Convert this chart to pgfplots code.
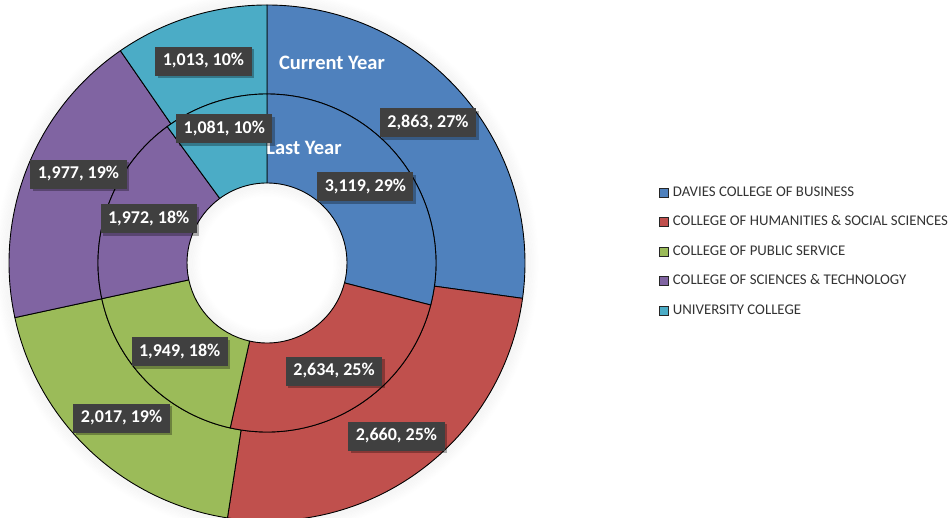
\documentclass[border=0pt]{standalone}
\usepackage{fontspec}
\setmainfont{Carlito}
\usepackage{pgfplots}
\pgfplotsset{compat=1.18}
\usepackage{pgfplotstable}
\usetikzlibrary{shadows}

\definecolor{cBlue}{HTML}{4F81BD}
\definecolor{cRed}{HTML}{C0504D}
\definecolor{cGreen}{HTML}{9BBB59}
\definecolor{cPurple}{HTML}{8064A2}
\definecolor{cAqua}{HTML}{4BACC6}
\definecolor{lblgray}{HTML}{404040}

% value, shown percentage, colour, label nudge (dx, dy)
\pgfplotstableread{
value pct color dx dy
2863 27 cBlue 0 0
2660 25 cRed 2 -2
2017 19 cGreen 1 0
1977 19 cPurple 10 10
1013 10 cAqua 0 -2
}\currentyear
\pgfplotstableread{
value pct color dx dy
3119 29 cBlue 0 0
2634 25 cRed 2 -2
1949 18 cGreen 1 -1
1972 18 cPurple -2 0
1081 10 cAqua -4 16
}\lastyear

\def\cx{267}\def\cy{255}
\pgfkeys{/pgf/number format/.cd,fixed,1000 sep={,},assume math mode=true}

\tikzset{lbl/.style={fill=lblgray, text=white, font=\bfseries\fontsize{18}{20}\selectfont,
  inner xsep=7.5pt, inner ysep=6pt, text height=13pt, text depth=4pt,
  drop shadow={shadow xshift=2.5pt, shadow yshift=-2.5pt, opacity=0.3, fill=black}}}

% #1 table, #2 inner radius, #3 outer radius, #4 w = wedges / l = labels
\newcommand\donutring[4]{%
  \pgfplotstablegetrowsof{#1}%
  \pgfmathtruncatemacro\lastrow{\pgfplotsretval-1}%
  \def\total{0}%
  \pgfplotsforeachungrouped \ii in {0,...,\lastrow}{%
    \pgfplotstablegetelem{\ii}{value}\of{#1}%
    \pgfmathsetmacro\total{\total+\pgfplotsretval/100}%
  }%
  \def\angA{90}%
  \pgfplotsforeachungrouped \ii in {0,...,\lastrow}{%
    \pgfplotstablegetelem{\ii}{value}\of{#1}\let\val\pgfplotsretval
    \pgfplotstablegetelem{\ii}{pct}\of{#1}\let\pct\pgfplotsretval
    \pgfplotstablegetelem{\ii}{color}\of{#1}\let\col\pgfplotsretval
    \pgfplotstablegetelem{\ii}{dx}\of{#1}\let\ddx\pgfplotsretval
    \pgfplotstablegetelem{\ii}{dy}\of{#1}\let\ddy\pgfplotsretval
    \pgfmathsetmacro\angB{\angA-360*(\val/100)/\total}%
    \ifx#4w%
      \pgfmathsetmacro\xo{\cx+#3*cos(\angA)}%
      \pgfmathsetmacro\yo{\cy+#3*sin(\angA)}%
      \pgfmathsetmacro\xin{\cx+#2*cos(\angB)}%
      \pgfmathsetmacro\yin{\cy+#2*sin(\angB)}%
      \edef\tmp{\noexpand\fill[fill=\col, draw=black, line width=0.9pt, line join=round]
        (axis cs:\xo,\yo) arc[start angle=\angA, end angle=\angB, radius=#3pt]
        -- (axis cs:\xin,\yin) arc[start angle=\angB, end angle=\angA, radius=#2pt] -- cycle;}%
      \tmp
    \else
      \pgfmathsetmacro\xl{\cx+\ddx+(#2+#3)/2*cos((\angA+\angB)/2)}%
      \pgfmathsetmacro\yl{\cy+\ddy+(#2+#3)/2*sin((\angA+\angB)/2)}%
      \edef\tmp{\noexpand\node[lbl] at (axis cs:\xl,\yl) {\noexpand\pgfmathprintnumber{\val}, \pct\noexpand\%};}%
      \tmp
    \fi
    \let\angA\angB
  }%
}

\begin{document}
\begin{tikzpicture}
\begin{axis}[
  x=1pt, y=1pt, xmin=0, xmax=952, ymin=0, ymax=518,
  hide axis, clip=false,
  legend image code/.code={\draw[#1, line width=0.8pt] (0pt,-4.5pt) rectangle (9pt,4.5pt);},
  legend cell align=left,
  legend style={draw=none, fill=none, at={(0.689,0.6448)}, anchor=north west,
    font=\fontsize{14.8}{17}\selectfont, text=black!80,
    nodes={inner sep=0pt, text height=10pt, text depth=3pt},
    row sep=16.5pt, column sep=4pt},
]
% soft shadow around the donut
\pgfplotsforeachungrouped \kk in {1,...,10}{%
  \pgfmathsetmacro\rr{258+1.3*\kk}%
  \pgfmathsetmacro\op{0.04-0.0035*\kk}%
  \edef\tmp{\noexpand\draw[black, opacity=\op, line width=1.3pt] (axis cs:\cx,\cy) circle[radius=\rr pt];}\tmp
  \pgfmathsetmacro\rh{80-1.3*\kk}%
  \edef\tmp{\noexpand\draw[black, opacity=\op, line width=1.3pt] (axis cs:\cx,\cy) circle[radius=\rh pt];}\tmp
}
\donutring{\currentyear}{169}{258}{w}
\donutring{\lastyear}{80}{169}{w}
\node[text=white, font=\bfseries\fontsize{20.5}{24}\selectfont] at (axis cs:332,455) {Current Year};
\node[text=white, font=\bfseries\fontsize{20.5}{24}\selectfont] at (axis cs:304,370) {Last Year};
\donutring{\currentyear}{169}{258}{l}
\donutring{\lastyear}{80}{169}{l}

\addlegendimage{fill=cBlue, draw=black!85}
\addlegendentry{DAVIES COLLEGE OF BUSINESS}
\addlegendimage{fill=cRed, draw=black!85}
\addlegendentry{COLLEGE OF HUMANITIES \& SOCIAL SCIENCES}
\addlegendimage{fill=cGreen, draw=black!85}
\addlegendentry{COLLEGE OF PUBLIC SERVICE}
\addlegendimage{fill=cPurple, draw=black!85}
\addlegendentry{COLLEGE OF SCIENCES \& TECHNOLOGY}
\addlegendimage{fill=cAqua, draw=black!85}
\addlegendentry{UNIVERSITY COLLEGE}
\end{axis}
\pgfresetboundingbox
\path[use as bounding box] (0,0) rectangle (952pt,518pt);
\end{tikzpicture}
\end{document}
